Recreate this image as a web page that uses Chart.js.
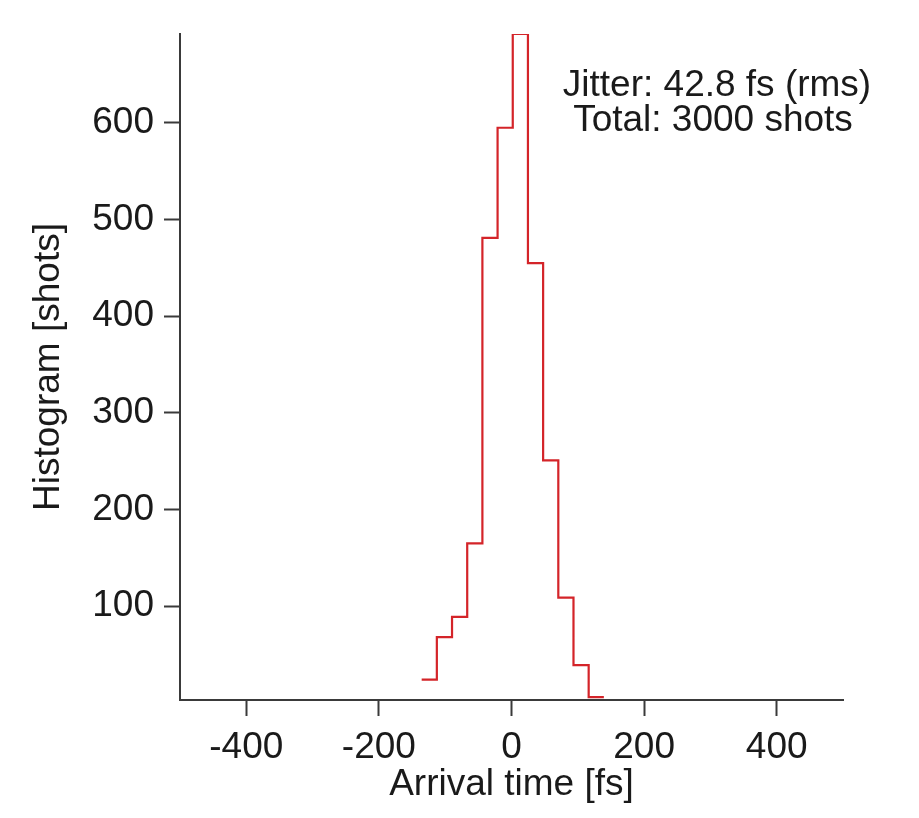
<!DOCTYPE html>
<html>
<head>
<meta charset="utf-8">
<script src="https://cdn.jsdelivr.net/npm/chart.js@4"></script>
<style>
  html, body { margin: 0; padding: 0; background: #fff; }
  #wrap { width: 919px; height: 818px; }
</style>
</head>
<body>
<div id="wrap"><canvas id="hist"></canvas></div>
<script>
// bin edges (fs) and counts per bin
const binEdges = [-135.5, -112.6, -89.7, -66.8, -43.9, -21.0, 1.9, 24.8, 47.7, 70.6, 93.5, 116.4, 139.3];
const binCounts = [24, 68, 89, 165, 481, 595, 692, 455, 251, 109, 39, 6];
const xTicks = [-400, -200, 0, 200, 400];
const yTicks = [100, 200, 300, 400, 500, 600];
const notes = ['Jitter: 42.8 fs (rms)', 'Total: 3000 shots'];

const FONT = '"Liberation Sans", Arial, Helvetica, sans-serif';
const FSIZE = 37;
const AXIS = '#3a3a3a';

function stepPoints(edges, counts) {
    const pts = [];
    for (let i = 0; i < counts.length; i++) {
        pts.push({x: edges[i], y: counts[i]});
    }
    pts.push({x: edges[edges.length - 1], y: counts[counts.length - 1]});
    return pts;
}

const notePlugin = {
    id: 'notes',
    afterDraw(chart) {
        const ctx = chart.ctx;
        const a = chart.chartArea;
        ctx.save();
        ctx.font = FSIZE + 'px ' + FONT;
        ctx.fillStyle = '#1a1a1a';
        ctx.textAlign = 'center';
        ctx.textBaseline = 'middle';
        ctx.fillText(notes[0], a.left + 537, a.top + 52);
        ctx.fillText(notes[1], a.left + 533, a.top + 87);
        ctx.restore();
    }
};

window.addEventListener('load', function() {
    const config = {
        type: 'line',
        data: {
            datasets: [{
                label: 'Histogram',
                data: stepPoints(binEdges, binCounts),
                stepped: 'before',
                borderColor: '#d42429',
                borderWidth: 2.2,
                pointRadius: 0,
                fill: false,
                tension: 0
            }]
        },
        options: {
            responsive: true,
            maintainAspectRatio: false,
            animation: false,
            layout: {padding: {top: 34, right: 76, left: 0, bottom: 0}},
            plugins: {
                legend: {display: false},
                tooltip: {enabled: false}
            },
            scales: {
                x: {
                    type: 'linear',
                    min: -500,
                    max: 500,
                    afterBuildTicks: s => { s.ticks = xTicks.map(v => ({value: v})); },
                    afterFit: s => { s.height = 118; },
                    border: {display: true, color: AXIS, width: 2},
                    grid: {display: true, drawOnChartArea: false, drawTicks: true, tickLength: 16, tickColor: AXIS, tickWidth: 2},
                    ticks: {color: '#1a1a1a', font: {family: FONT, size: FSIZE}, padding: 10, maxRotation: 0},
                    title: {display: true, text: 'Arrival time [fs]', color: '#1a1a1a', font: {family: FONT, size: FSIZE}, padding: {top: 0, bottom: 11}}
                },
                y: {
                    min: 3,
                    max: 692,
                    afterBuildTicks: s => { s.ticks = yTicks.map(v => ({value: v})); },
                    afterFit: s => { s.width = 180; },
                    border: {display: true, color: AXIS, width: 2},
                    grid: {display: true, drawOnChartArea: false, drawTicks: true, tickLength: 16, tickColor: AXIS, tickWidth: 2},
                    ticks: {color: '#1a1a1a', font: {family: FONT, size: FSIZE}, padding: 10},
                    title: {display: true, text: 'Histogram [shots]', color: '#1a1a1a', font: {family: FONT, size: FSIZE}, padding: {top: 27, bottom: 0}}
                }
            }
        },
        plugins: [notePlugin]
    };
    new Chart(document.getElementById('hist'), config);
});
</script>
</body>
</html>
